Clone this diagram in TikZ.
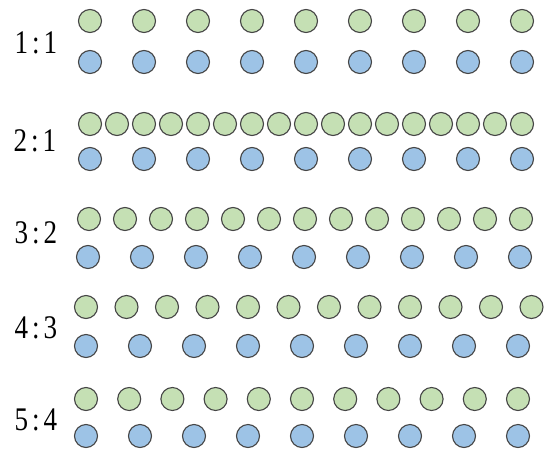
\documentclass[tikz,border=0pt]{standalone}
\usepackage{fontspec}
\newfontfamily\labfont[FakeStretch=0.82]{Liberation Serif}
\definecolor{gfill}{HTML}{C5E0B4}
\definecolor{bfill}{HTML}{9DC3E6}
\definecolor{cstroke}{HTML}{454545}
\begin{document}
\begin{tikzpicture}[x=1pt,y=-1pt,
  dot/.style={circle,draw=cstroke,line width=1.1pt,inner sep=0pt,minimum size=23pt},
  gdot/.style={dot,fill=gfill},
  bdot/.style={dot,fill=bfill},
  ratio/.style={font=\labfont\fontsize{33}{33}\selectfont,inner sep=0pt,anchor=center}]
\useasboundingbox (0,0) rectangle (554,453);
% row 1:1
\node[ratio] (l1) at (36,43) {1\kern4pt:\kern4pt1};
\foreach \i in {0,...,8} \node[gdot] (g1-\i) at ({90+54*\i},21) {};
\foreach \i in {0,...,8} \node[bdot] (b1-\i) at ({90+54*\i},62) {};
% row 2:1
\node[ratio] (l2) at (35,141) {2\kern4pt:\kern4pt1};
\foreach \i in {0,...,16} \node[gdot] (g2-\i) at ({90+27*\i},124) {};
\foreach \i in {0,...,8} \node[bdot] (b2-\i) at ({90+54*\i},159) {};
% row 3:2
\node[ratio] (l3) at (36,233) {3\kern4pt:\kern4pt2};
\foreach \i in {0,...,12} \node[gdot] (g3-\i) at ({89+36*\i},219) {};
\foreach \i in {0,...,8} \node[bdot] (b3-\i) at ({88+54*\i},257) {};
% row 4:3
\node[ratio] (l4) at (36,328) {4\kern4pt:\kern4pt3};
\foreach \i in {0,...,11} \node[gdot] (g4-\i) at ({86+40.5*\i},307) {};
\foreach \i in {0,...,8} \node[bdot] (b4-\i) at ({86+54*\i},346) {};
% row 5:4
\node[ratio] (l5) at (36,420) {5\kern4pt:\kern4pt4};
\foreach \i in {0,...,10} \node[gdot] (g5-\i) at ({86+43.2*\i},399) {};
\foreach \i in {0,...,8} \node[bdot] (b5-\i) at ({86+54*\i},436) {};
\end{tikzpicture}
\end{document}
